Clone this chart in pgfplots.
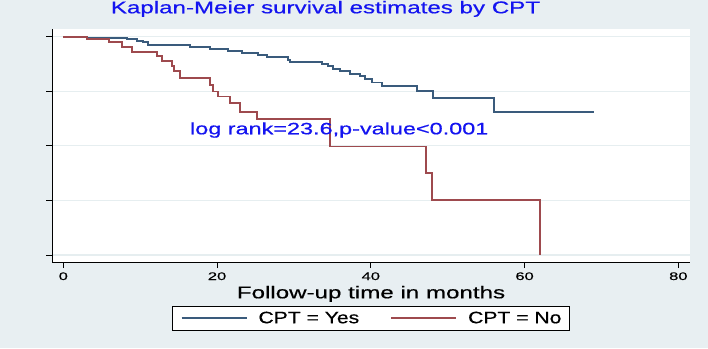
\documentclass[border=0pt]{standalone}
\usepackage{fontspec}
\setmainfont{Liberation Sans}
\newfontfamily\widefont[FakeStretch=1.42,FakeBold=0.6]{Liberation Sans}
\newfontfamily\legfont[FakeStretch=1.28,FakeBold=0.6]{Liberation Sans}
\newfontfamily\tickfamily[FakeStretch=1.5,FakeBold=0.4]{Liberation Sans}
\usepackage{pgfplots}
\pgfplotsset{compat=1.18}
\definecolor{bgcol}{HTML}{E8EFF2}
\definecolor{gridcol}{HTML}{E6EEF0}
\definecolor{yescol}{HTML}{3A5B7C}
\definecolor{nocol}{HTML}{9E4A4E}
\definecolor{txtblue}{HTML}{1414F0}

\begin{document}
\begin{tikzpicture}[x=1pt,y=1pt]
\fill[bgcol] (0,0) rectangle (708,348);
\useasboundingbox (0,0) rectangle (708,348);
\begin{axis}[
    at={(52pt,86pt)}, anchor=south west,
    scale only axis, width=638pt, height=233pt,
    xmin=-1.47, xmax=81.52, ymin=-0.0321, ymax=1.0353,
    axis background/.style={fill=white},
    axis x line*=bottom, axis y line*=left,
    axis line style={black, line width=0.8pt, -},
    xtick={0,20,40,60,80}, ytick={0,0.25,0.5,0.75,1}, yticklabels={},
    tick align=outside, major tick length=6pt,
    tick style={black, line width=0.8pt},
    ymajorgrids, grid style={gridcol, line width=1.2pt},
    /pgf/number format/assume math mode=true,
    xticklabel style={font=\fontsize{11}{12}\tickfamily, anchor=base, yshift=-12pt},
    xlabel={Follow-up time in months},
    xlabel style={font=\fontsize{17}{18}\widefont, at={(axis description cs:0.5,0)}, anchor=base, yshift=-36.3pt},
    legend columns=2,
    legend image code/.code={\draw[#1] (0pt,0pt) -- (65pt,0pt);},
    legend image post style={line width=1.9pt},
    legend style={at={(axis description cs:0.5,-0.1888)}, anchor=north,
        draw=black, fill=white,
        font=\fontsize{16.5}{18}\legfont,
        inner xsep=8pt, inner ysep=5.5pt,
        nodes={inner sep=0pt},
        /tikz/every odd column/.append style={column sep=11pt},
        /tikz/every even column/.append style={column sep=31pt}},
    legend cell align=left,
]
% CPT = Yes
\addplot[yescol, line width=1.9pt, const plot] coordinates {
(0,1.0) (3.04,0.995) (8.25,0.990) (9.55,0.982) (10.41,0.974) (11.06,0.963)
(16.48,0.951) (19.08,0.943) (21.46,0.933) (23.21,0.926) (25.37,0.917)
(26.46,0.907) (29.27,0.894) (29.49,0.884) (33.61,0.875) (34.47,0.864)
(35.12,0.853) (35.99,0.841) (37.29,0.830) (38.60,0.818) (39.24,0.807)
(40.12,0.790) (41.42,0.775) (45.97,0.752) (48.13,0.721) (56.03,0.653)
(69.03,0.653)};
\addlegendentry{CPT = Yes}
% CPT = No
\addplot[nocol, line width=1.9pt, const plot] coordinates {
(0,1.0) (3.08,0.989) (5.94,0.974) (7.64,0.951) (8.90,0.931) (12.19,0.913)
(12.84,0.889) (14.14,0.866) (14.40,0.841) (15.19,0.810) (19.09,0.780)
(19.51,0.749) (20.16,0.726) (21.68,0.696) (22.98,0.657) (25.16,0.622)
(34.69,0.497) (47.14,0.375) (47.92,0.252) (62.0,0.0)};
\addlegendentry{CPT = No}
\end{axis}
\node[font=\fontsize{17}{18}\widefont, text=txtblue, anchor=base] at (325.5,334.7)
    {Kaplan-Meier survival estimates by CPT};
\node[font=\fontsize{16.5}{18}\widefont, text=txtblue, anchor=base] at (339.2,213.7)
    {log rank=23.6,p-value<0.001};
\end{tikzpicture}
\end{document}
